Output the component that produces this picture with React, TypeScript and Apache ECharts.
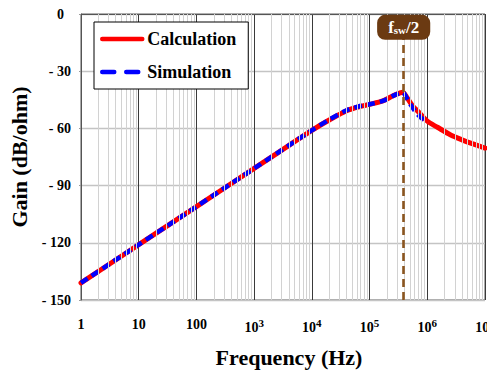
import React, { useEffect, useRef } from "react";
import * as echarts from "echarts";

// ---- data ----
const freqCalc = [1, 10, 100, 1000, 6000, 10000, 20000, 40000, 70000, 100000, 170000, 260000, 330000, 375000, 450000, 560000, 700000, 1000000, 1500000, 2500000, 4000000, 6000000, 10000000];
const gainCalc = [-141, -121, -101, -81, -65.4, -61, -55.6, -50.7, -48.4, -47.4, -45.6, -42.7, -41.5, -41, -44.1, -48.3, -51.3, -56.2, -59.4, -63.3, -66, -68, -70.3];

const freqSim = [1, 10, 100, 1000, 10000, 20000, 40000, 70000, 100000, 170000, 260000, 330000, 375000, 450000, 520000, 650000, 780000, 920000];
const gainSim = [-141, -121, -101, -81, -61, -55.4, -50.5, -48.2, -47.3, -45.6, -42.8, -41.5, -41.1, -44.5, -47.8, -52, -54.4, -55.8];

const FSW_HALF = 390000;
const FSW_LABEL_Y = -7;

const xTickLabels = ["1", "10", "100", "10^3", "10^4", "10^5", "10^6", "10^7"];
const yTicks = [0, -30, -60, -90, -120, -150];
const minorMultipliers = [2, 3, 4, 5, 6, 7, 8, 9];
const decades = [1, 10, 100, 1000, 10000, 100000, 1000000];

const SERIF = "Liberation Serif";

export default function App() {
  const ref = useRef<HTMLDivElement>(null);

  useEffect(() => {
    if (!ref.current) return;
    const chart = echarts.init(ref.current, null, { renderer: "svg" });

    const minorLines: any[] = [];
    decades.forEach((d) => minorMultipliers.forEach((m) => minorLines.push({ xAxis: d * m })));

    const calcData = freqCalc.map((f, i) => [f, gainCalc[i]]);
    const simData = freqSim.map((f, i) => [f, gainSim[i]]);

    chart.setOption({
      animation: false,
      backgroundColor: "#ffffff",
      textStyle: { fontFamily: SERIF },
      grid: {
        left: 81,
        right: 2,
        top: 14,
        bottom: 75,
        outerBoundsMode: "none",
        containLabel: false,
        show: true,
        borderColor: "#555555",
        borderWidth: 1,
        backgroundColor: "transparent",
      },
      legend: {
        left: 94,
        top: 22,
        orient: "vertical",
        itemWidth: 40,
        itemHeight: 18,
        itemGap: 15,
        padding: [8, 12, 8, 6],
        borderColor: "#000000",
        borderWidth: 1,
        backgroundColor: "#ffffff",
        itemStyle: { opacity: 0 },
        textStyle: { fontFamily: SERIF, fontWeight: "bold", fontSize: 18, color: "#000" },
        data: [
          { name: "Calculation", lineStyle: { width: 4.5, color: "#ff0000", type: "solid", cap: "round" } },
          { name: "Simulation", lineStyle: { width: 4.5, color: "#0000ff", type: [12, 12], cap: "round" } },
        ],
        z: 10,
      },
      xAxis: {
        type: "log",
        logBase: 10,
        min: 1,
        max: 10000000,
        name: "Frequency (Hz)",
        nameLocation: "middle",
        nameGap: 46,
        nameTextStyle: { fontFamily: SERIF, fontWeight: "bold", fontSize: 22, color: "#000", padding: [0, 0, 0, 12] },
        axisLine: { show: true, lineStyle: { color: "#555555", width: 1 } },
        axisTick: { show: false },
        splitLine: { show: true, lineStyle: { color: "#3a3a3a", width: 1 } },
        axisLabel: {
          margin: 17,
          color: "#000",
          fontFamily: SERIF,
          fontWeight: "bold",
          fontSize: 14,
          showMaxLabel: true,
          hideOverlap: false,
          formatter: (v: number) => {
            const idx = Math.round(Math.log10(v));
            const lab = xTickLabels[idx] ?? "";
            if (lab.indexOf("^") >= 0) {
              const [b, e] = lab.split("^");
              return "{b|" + b + "}{s|" + e + "}";
            }
            return "{b|" + lab + "}";
          },
          rich: {
            b: { fontFamily: SERIF, fontWeight: "bold", fontSize: 14, color: "#000" },
            s: { fontFamily: SERIF, fontWeight: "bold", fontSize: 11, color: "#000", padding: [0, 0, 10, 0] },
          },
        },
      },
      yAxis: {
        type: "value",
        min: -150,
        max: 0,
        interval: 30,
        name: "Gain (dB/ohm)",
        nameLocation: "middle",
        nameGap: 44,
        nameTextStyle: { fontFamily: SERIF, fontWeight: "bold", fontSize: 22, color: "#000" },
        axisLine: { show: true, lineStyle: { color: "#555555", width: 1 } },
        axisTick: { show: true, length: 2, lineStyle: { color: "#999" } },
        splitLine: { show: true, lineStyle: { color: "#c4c4c4", width: 1.3 } },
        axisLabel: {
          margin: 10,
          color: "#000",
          fontFamily: SERIF,
          fontWeight: "bold",
          fontSize: 14,
          formatter: (v: number) =>
            yTicks.indexOf(v) >= 0 ? (v === 0 ? "{z|0}" : "{n|- " + Math.abs(v) + "}") : "",
          rich: {
            z: { fontFamily: SERIF, fontWeight: "bold", fontSize: 14, color: "#000", padding: [0, 7, 0, 0] },
            n: { fontFamily: SERIF, fontWeight: "bold", fontSize: 14, color: "#000" },
          },
        },
      },
      series: [
        {
          name: "minor-grid",
          type: "line",
          data: [],
          silent: true,
          z: 1,
          markLine: {
            silent: true,
            symbol: ["none", "none"],
            label: { show: false },
            lineStyle: { color: "#d2d2d2", width: 1, type: "solid" },
            data: minorLines,
            animation: false,
          },
        },
        {
          name: "fsw-line",
          type: "line",
          data: [],
          silent: true,
          z: 2,
          markLine: {
            silent: true,
            symbol: ["none", "none"],
            label: { show: false },
            emphasis: { disabled: true },
            lineStyle: { color: "#8a5520", width: 2.6, type: [8, 5], opacity: 1 },
            data: [{ xAxis: FSW_HALF }],
          },
        },
        {
          name: "Calculation",
          type: "line",
          data: calcData,
          symbol: "none",
          smooth: 0.3,
          z: 3,
          lineStyle: { color: "#ff0000", width: 5, cap: "round" },
          itemStyle: { color: "#ff0000" },
        },
        {
          name: "Simulation",
          type: "line",
          data: simData,
          symbol: "none",
          smooth: 0.3,
          z: 4,
          lineStyle: { color: "#0000ff", width: 4.5, type: [8, 5], cap: "butt" },
          itemStyle: { color: "#0000ff" },
          markPoint: {
            silent: true,
            symbol: "rect",
            symbolSize: 1,
            itemStyle: { color: "rgba(0,0,0,0)" },
            z: 10,
            label: {
              show: true,
              position: "inside",
              formatter: "{f|f}{s|sw}{f|/2}",
              backgroundColor: "#6b3a12",
              borderRadius: 8,
              padding: [4, 11, 4, 11],
              rich: {
                f: { fontFamily: SERIF, fontWeight: "bold", fontSize: 17, color: "#fff", verticalAlign: "bottom" },
                s: { fontFamily: SERIF, fontWeight: "bold", fontSize: 11, color: "#fff", verticalAlign: "bottom" },
              },
            },
            data: [{ coord: [FSW_HALF, FSW_LABEL_Y] }],
          },
        },
      ],
    });

    return () => chart.dispose();
  }, []);

  return (
    <div
      ref={ref}
      style={{ position: "absolute", left: 0, top: 0, width: 487, height: 375, background: "#fff" }}
    />
  );
}
